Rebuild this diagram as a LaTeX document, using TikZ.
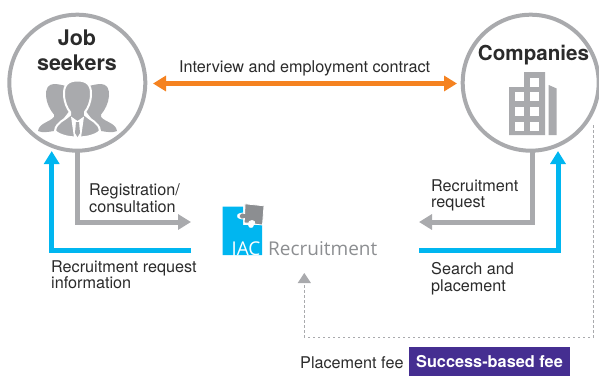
\documentclass[tikz,border=0pt]{standalone}
\usepackage{fontspec}
\setmainfont{TeX Gyre Heros}
\newfontfamily\logofont{Open Sans}
\usetikzlibrary{arrows.meta}
\definecolor{ringgray}{HTML}{A9AAAD}
\definecolor{txt}{HTML}{2B2B2B}
\definecolor{jacblue}{HTML}{00B6F0}
\definecolor{logogray}{HTML}{8C8E91}
\definecolor{orangeA}{HTML}{F58220}
\definecolor{purpleA}{HTML}{452E91}
\tikzset{
 ring/.style={circle,draw=ringgray,line width=4pt,fill=white,minimum size=136pt,inner sep=0pt},
 graytip/.style={-{Triangle[length=13pt,width=15pt]},draw=ringgray,line width=5pt},
 bluetip/.style={-{Triangle[length=13pt,width=15pt]},draw=jacblue,line width=5pt},
 orangetip/.style={{Triangle[length=13pt,width=15pt]}-{Triangle[length=13pt,width=15pt]},draw=orangeA,line width=5pt},
 feeline/.style={-{Triangle[length=10pt,width=13pt]},draw=ringgray,line width=1pt,dash pattern=on 2.5pt off 2.5pt},
 lab/.style={inner sep=0pt,anchor=base west,text=txt,font=\fontsize{16.2}{16.2}\selectfont,align=left},
 iconfill/.style={fill=ringgray,draw=none},
 iconhalo/.style={fill=ringgray,draw=white,line width=2pt},
 iconcut/.style={fill=white,draw=none},
}
\begin{document}
\begin{tikzpicture}[x=1pt,y=-1pt]
\useasboundingbox (0,0) rectangle (599,376);
\coordinate (jreg) at (77.5,148);
\coordinate (jcorner) at (77.5,222);
\coordinate (jregend) at (191,222);
\coordinate (jblue) at (51.7,151);
\coordinate (jbluecorner) at (51.7,250.5);
\coordinate (jblueend) at (191,250.5);
\coordinate (creg) at (532.7,148);
\coordinate (ccorner) at (532.7,222);
\coordinate (cregend) at (419,222);
\coordinate (cblue) at (558,151);
\coordinate (cbluecorner) at (558,250.5);
\coordinate (cblueend) at (419,250.5);
\coordinate (fa) at (593,125);
\coordinate (fb) at (593,337);
\coordinate (fc) at (304.3,337);
\coordinate (fd) at (304.3,273);
% connectors
\draw[graytip,line join=miter] (jreg) -- (jcorner) -- (jregend);
\draw[graytip,line join=miter] (creg) -- (ccorner) -- (cregend);
\draw[bluetip,line join=miter] (jblueend) -- (jbluecorner) -- (jblue);
\draw[bluetip,line join=miter] (cblueend) -- (cbluecorner) -- (cblue);
\draw[feeline] (fa) -- (fb) -- (fc) -- (fd);
% rings
\node[ring] (job) at (77.3,82.7) {};
\node[ring] (com) at (530.7,82.7) {};
\coordinate (oa) at (153,83.5);
\coordinate (ob) at (457,83.5);
\draw[orangetip] (oa) -- (ob);
% heads
\node[inner sep=0pt,text=txt,font=\fontsize{21.5}{25}\selectfont\bfseries,align=center,anchor=base] (jobt) at (77,70.5) {Job\\seekers};
\node[inner sep=0pt,text=txt,font=\fontsize{20.6}{25}\selectfont\bfseries,anchor=base] (comt) at (533.5,60.5) {Companies};
% people icon
\path[iconfill] (54,84) .. controls (48,84) and (45.5,89) .. (46,96) .. controls (46.5,103) and (50,110) .. (54,114.5) -- (54,117) .. controls (50,122) and (39,123) .. (38,131) .. controls (42,133) and (48,132) .. (54,131) -- (70,110) -- (66,86) .. controls (62,85) and (58,84) .. (54,84) -- cycle;
\path[iconfill] (101,84) .. controls (107,84) and (109.5,89) .. (109,96) .. controls (108.5,103) and (105,110) .. (101,114.5) -- (101,117) .. controls (105,122) and (116,123) .. (117,131) .. controls (113,133) and (107,132) .. (101,131) -- (85,110) -- (89,86) .. controls (93,85) and (97,84) .. (101,84) -- cycle;
\path[iconhalo] (77.5,80.5) .. controls (68,80.5) and (63.5,85) .. (64,95) .. controls (64.5,103) and (67,108) .. (70,112) -- (70,115) .. controls (65,120) and (56,122) .. (55,131) .. controls (60,136) and (70,137.5) .. (77.5,137.5) .. controls (85,137.5) and (95,136) .. (100,131) .. controls (99,122) and (90,120) .. (85,115) -- (85,112) .. controls (88,108) and (90.5,103) .. (91,95) .. controls (91.5,85) and (87,80.5) .. (77.5,80.5) -- cycle;
\path[iconcut] (71,116.5) -- (74,137.5) -- (81,137.5) -- (84,116.5) -- (77.5,121) -- cycle;
\path[iconfill] (76,122) -- (79,122) -- (80,133) -- (77.5,137) -- (75,133) -- cycle;
% building icon
\path[iconfill] (524,72) -- (545,72) -- (545,135) -- (509,135) -- (509,87) -- (524,87) -- cycle;
\path[iconfill] (548.7,85) -- (556.7,88.5) -- (556.7,135) -- (548.7,135) -- cycle;
\foreach \wx/\wy in {530/77.5,515/92,530/92,515/107,530/107,515/122,530/122}
  \path[iconcut] (\wx,\wy) rectangle ++(9,9.3);
% logo
\path[fill=jacblue] (222.7,206.7) -- (243,206.7) -- (243,213) -- (240,213) .. controls (236,213) and (236,219) .. (240,219) -- (243,219) -- (243,225) -- (248,225) .. controls (248,229) and (254,229) .. (254,225) -- (262,225) -- (262,255) -- (222.7,255) -- cycle;
\path[fill=logogray,draw=white,line width=.8pt] (245,203.8) -- (264,205.8) -- (262.5,225) -- (255,224.2) .. controls (255.5,221.5) and (253.5,220.5) .. (252,220.5) .. controls (250,220.5) and (248.5,222) .. (248.5,223.2) -- (244,222.8) -- (244.5,218.5) .. controls (241,220) and (239,218) .. (239,216) .. controls (239,214) and (241.5,212) .. (244.7,213.5) -- cycle;
\node[inner sep=0pt,anchor=base west,text=white,font=\logofont\fontsize{19}{18}\selectfont] (logojac) at (231.5,255) {JAC};
\node[inner sep=0pt,anchor=base west,text=logogray,font=\logofont\fontsize{19}{18}\selectfont] (logorec) at (268,255) {Recruitment};
% labels
\node[lab] (iv) at (179,72) {Interview and employment contract};
\node[lab] (reg) at (89,212) {Registration/\\consultation};
\node[lab] (info) at (51,288.5) {Recruitment request\\information};
\node[lab] (req) at (431,207.5) {Recruitment\\request};
\node[lab] (search) at (431,291) {Search and\\placement};
\node[lab] (fee) at (300,368) {Placement fee};
\node[fill=purpleA,text=white,font=\fontsize{16.3}{16}\selectfont\bfseries,minimum width=161pt,minimum height=29pt,inner sep=0pt] (sbf) at (489.5,361.5) {Success-based fee};
\end{tikzpicture}
\end{document}
